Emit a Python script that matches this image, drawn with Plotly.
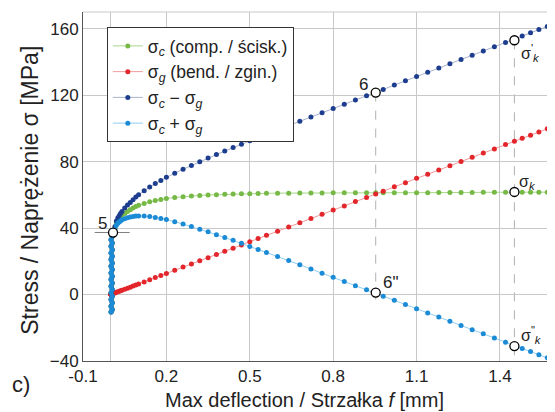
import plotly.graph_objects as go

# ---------------- data ----------------
col_f = [0.001, 0.005] * 12 + [0.003]
col_s = [-10.5, -9, -7, -5, -3, -1, 1, 3, 5, 7, 9, 11, 13, 15, 17, 19, 21, 23, 25,
         27, 29, 31, 33, 35, 36.5]

main_f = [0.015, 0.02, 0.025, 0.03, 0.035, 0.04, 0.05, 0.06, 0.07, 0.08, 0.09, 0.10,
          0.12, 0.14, 0.16, 0.18, 0.20, 0.23, 0.26, 0.29, 0.32, 0.35, 0.38, 0.41,
          0.44, 0.47, 0.50, 0.53, 0.56, 0.60, 0.64, 0.68, 0.72, 0.76, 0.80, 0.84,
          0.88, 0.92, 0.953, 0.98, 1.02, 1.06, 1.10, 1.14, 1.18, 1.22, 1.26, 1.30,
          1.34, 1.38, 1.42, 1.452, 1.48, 1.51, 1.54, 1.57]

sigma_c_main = [40.0, 43.0, 44.5, 45.5, 46.5, 47.5, 48.8, 50.0, 51.0, 52.0, 53.0, 53.7,
                54.8, 55.8, 56.6, 57.2, 57.8, 58.4, 58.9, 59.3, 59.6, 59.9, 60.1, 60.3,
                60.5, 60.6, 60.7, 60.8, 60.9, 61.0, 61.0, 61.1, 61.1, 61.1, 61.2, 61.2,
                61.2, 61.2, 61.2, 61.2, 61.3, 61.3, 61.3, 61.3, 61.4, 61.4, 61.4, 61.4,
                61.5, 61.5, 61.5, 61.5, 61.5, 61.6, 61.6, 61.6]

sigma_g_main = [0.9, 1.3, 1.6, 1.9, 2.2, 2.5, 3.2, 3.8, 4.4, 5.1, 5.7, 6.4,
                7.6, 8.9, 10.2, 11.4, 12.7, 14.6, 16.5, 18.4, 20.3, 22.2, 24.1, 26.0,
                27.9, 29.8, 31.8, 33.7, 35.6, 38.1, 40.6, 43.2, 45.7, 48.3, 50.8, 53.3,
                55.9, 58.4, 60.5, 62.2, 64.8, 67.3, 69.9, 72.4, 74.9, 77.5, 80.0, 82.6,
                85.1, 87.6, 90.2, 92.2, 94.0, 95.9, 97.8, 99.7]

sigma_cmg_main = [40.9, 44.3, 46.1, 47.4, 48.7, 50.0, 52.0, 53.8, 55.4, 57.1, 58.7, 60.1,
                  62.4, 64.7, 66.8, 68.6, 70.5, 73.0, 75.4, 77.7, 79.9, 82.1, 84.2, 86.3,
                  88.4, 90.4, 92.5, 94.5, 96.5, 99.1, 101.6, 104.3, 106.8, 109.4, 112.0, 114.5,
                  117.1, 119.6, 121.7, 123.4, 126.1, 128.6, 131.2, 133.7, 136.3, 138.9, 141.4, 144.0,
                  146.6, 149.1, 151.7, 153.7, 155.5, 157.5, 159.4, 161.3]

sigma_cpg_main = [39.1, 41.7, 42.9, 43.6, 44.3, 45.0, 45.6, 46.2, 46.6, 46.9, 47.3, 47.3,
                  47.2, 46.9, 46.4, 45.8, 45.1, 43.8, 42.4, 40.9, 39.3, 37.7, 36.0, 34.3,
                  32.6, 30.8, 28.9, 27.1, 25.3, 22.9, 20.4, 17.9, 15.4, 12.8, 10.4, 7.9,
                  5.3, 2.8, 0.7, -1.0, -3.5, -6.0, -8.6, -11.1, -13.5, -16.1, -18.6, -21.2,
                  -23.6, -26.1, -28.7, -30.7, -32.5, -34.3, -36.2, -38.1]

col_zero = [0] * 25

deflection = col_f + main_f
sigma_c = col_s + sigma_c_main
sigma_g = col_zero + sigma_g_main
sigma_c_minus_g = col_s + sigma_cmg_main
sigma_c_plus_g = col_s + sigma_cpg_main

key_f = [0.008, 0.953, 0.953, 1.452, 1.452, 1.452]
key_s = [37.3, 121.5, 1.2, 61.7, 153.0, -31.0]

x_ticks = [-0.1, 0.0, 0.2, 0.5, 0.8, 1.1, 1.4]
x_tick_text = ["-0.1", "", "0.2", "0.5", "0.8", "1.1", "1.4"]
y_ticks = [-40, 0, 40, 80, 120, 160]

names = ["σ<sub><i>c</i></sub> (comp. / ścisk.)",
         "σ<sub><i>g</i></sub> (bend. / zgin.)",
         "σ<sub><i>c</i></sub> − σ<sub><i>g</i></sub>",
         "σ<sub><i>c</i></sub> + σ<sub><i>g</i></sub>"]

FONT = "Liberation Sans, Arial, sans-serif"
TXT = "#222"

fig = go.Figure()
series = [
    (sigma_c, "#76b947", "#a8d88a"),
    (sigma_g, "#e3262b", "#f29a9a"),
    (sigma_c_minus_g, "#1d3d8f", "#a9b3cc"),
    (sigma_c_plus_g, "#1b8bd6", "#92cdf2"),
]
for (vals, mc, lc), nm in zip(series, names):
    fig.add_trace(go.Scatter(x=deflection, y=vals, mode="lines+markers", name=nm,
                             line=dict(color=lc, width=1),
                             marker=dict(color=mc, size=5)))

fig.add_trace(go.Scatter(x=key_f, y=key_s, mode="markers", showlegend=False,
                         marker=dict(color="white", size=9,
                                     line=dict(color="black", width=1.3))))

shapes = [
    dict(type="line", xref="x", yref="y", x0=0.953, x1=0.953, y0=121.5, y1=-7,
         line=dict(color="#b0b0b0", width=1, dash="dash"), layer="below"),
    dict(type="line", xref="x", yref="y", x0=1.452, x1=1.452, y0=153, y1=-37,
         line=dict(color="#b0b0b0", width=1, dash="dash"), layer="below"),
    dict(type="line", xref="x", yref="y", x0=-0.058, x1=0.068, y0=37.3, y1=37.3,
         line=dict(color="#808080", width=1), layer="below"),
    dict(type="line", xref="paper", yref="paper", x0=0, x1=1, y0=1, y1=1,
         line=dict(color="#c8c8c8", width=1), layer="below"),
]

ann_font = dict(family=FONT, size=17, color=TXT)
small_font = dict(family=FONT, size=16, color=TXT)
C = dict(showarrow=False, xanchor="center", yanchor="middle")
annotations = [
    dict(x=-0.029, y=43.0, text="5", font=ann_font, **C),
    dict(x=0.908, y=126.5, text="6", font=ann_font, **C),
    dict(x=1.008, y=7.0, text="6\"", font=ann_font, **C),
    dict(x=1.499, y=67.5, text="σ<sub><i>k</i></sub>", font=small_font, **C),
    dict(x=1.509, y=145.5, text="σ<sup>'</sup><sub><i>k</i></sub>", font=small_font, **C),
    dict(x=1.514, y=-24.5, text="σ<sup>\"</sup><sub><i>k</i></sub>", font=small_font, **C),
    dict(xref="paper", yref="paper", x=0.475, y=-0.113,
         text="Max deflection / Strzałka <i>f</i> [mm]",
         font=dict(family=FONT, size=20, color=TXT), **C),
    dict(xref="paper", yref="paper", x=-0.114, y=0.49, text="Stress / Naprężenie σ [MPa]",
         textangle=-90, font=dict(family=FONT, size=23, color=TXT), **C),
    dict(xref="paper", yref="paper", x=-0.133, y=-0.067, text="c)",
         font=dict(family=FONT, size=22, color=TXT), **C),
]

# page body adds an 8px offset; margins below compensate for it
fig.update_layout(
    width=547, height=404,
    margin=dict(l=75, r=5, t=4, b=51),
    paper_bgcolor="white", plot_bgcolor="white",
    font=dict(family=FONT, size=17, color=TXT),
    showlegend=True,
    legend=dict(x=0.051, y=0.957, xanchor="left", yanchor="top",
                bgcolor="white", bordercolor="#333", borderwidth=1,
                font=dict(family=FONT, size=17.5, color=TXT),
                tracegroupgap=0, itemwidth=30),
    shapes=shapes, annotations=annotations,
)
fig.update_xaxes(range=[-0.1, 1.58], tickvals=x_ticks, ticktext=x_tick_text,
                 showgrid=True, gridcolor="#c8c8c8", gridwidth=1, zeroline=False,
                 showline=True, linecolor="#555", linewidth=1, ticks="",
                 automargin=False,
                 tickfont=dict(family=FONT, size=17, color=TXT))
fig.update_yaxes(range=[-40, 170], tickvals=y_ticks,
                 showgrid=True, gridcolor="#c8c8c8", gridwidth=1, zeroline=False,
                 showline=True, linecolor="#555", linewidth=1, ticks="",
                 automargin=False,
                 tickfont=dict(family=FONT, size=17, color=TXT))

fig.write_html("out.html")
